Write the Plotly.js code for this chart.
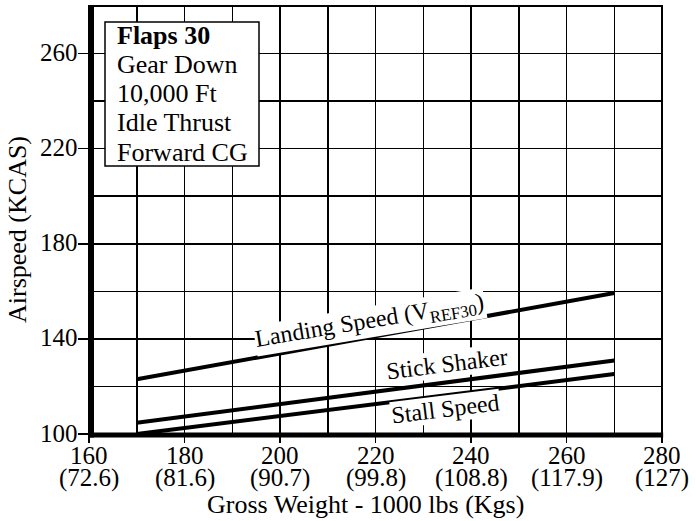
<!DOCTYPE html>
<html>
<head>
<meta charset="utf-8">
<script src="https://cdn.plot.ly/plotly-3.0.1.min.js"></script>
<style>html,body{margin:0;padding:0;background:#fff;}#chart{width:696px;height:521px;}</style>
</head>
<body>
<div id="chart"></div>
<script>
// ---- data ----
const weights = [170, 270];                 // gross weight, 1000 lbs
const landingSpeed = [123, 159.3];          // VREF30, KCAS
const stickShaker = [104.7, 130.9];         // KCAS
const stallSpeed = [100, 125.2];            // KCAS

const xTickVals = [160, 180, 200, 220, 240, 260, 280];
const xTickLbs = ['160', '180', '200', '220', '240', '260', '280'];
const xTickKgs = ['(72.6)', '(81.6)', '(90.7)', '(99.8)', '(108.8)', '(117.9)', '(127)'];
const yTickVals = [100, 140, 180, 220, 260];
const yTickText = ['100', '140', '180', '220', '260'];

const infoLines = ['<b>Flaps 30</b>', 'Gear Down', '10,000 Ft', 'Idle Thrust', 'Forward CG'];

const FONT = 'Liberation Serif';
const tf = {family: FONT, size: 26, color: '#000'};
const tickF = {family: FONT, size: 25, color: '#000'};
const labF = {family: FONT, size: 24, color: '#000'};
const lineStyle = {color: '#000', width: 4};

const traces = [
  {x: weights, y: landingSpeed, mode: 'lines', line: lineStyle, name: 'Landing Speed', hoverinfo: 'skip'},
  {x: weights, y: stickShaker, mode: 'lines', line: lineStyle, name: 'Stick Shaker', hoverinfo: 'skip'},
  {x: weights, y: stallSpeed, mode: 'lines', line: lineStyle, name: 'Stall Speed', hoverinfo: 'skip'}
];

const annotations = [];
// x tick label rows (lbs and kgs)
xTickVals.forEach((v, i) => {
  annotations.push({x: v, xref: 'x', y: 0, yref: 'paper', yanchor: 'middle', xanchor: 'center',
    yshift: -21, text: xTickLbs[i], showarrow: false, font: tickF});
  annotations.push({x: v, xref: 'x', y: 0, yref: 'paper', yanchor: 'middle', xanchor: 'center',
    yshift: -44, text: xTickKgs[i], showarrow: false, font: tickF});
});
// y tick labels
yTickVals.forEach((v, i) => {
  annotations.push({x: 0, xref: 'paper', y: v, yref: 'y', xanchor: 'right', yanchor: 'middle',
    xshift: -9, yshift: 1, text: yTickText[i], showarrow: false, font: tickF});
});
// info box lines
const infoY = [35, 64.5, 93.7, 123, 152];
infoLines.forEach((t, i) => {
  annotations.push({x: 26 / 573, xref: 'paper', y: (434 - infoY[i]) / 428, yref: 'paper',
    xanchor: 'left', yanchor: 'middle', text: t, showarrow: false, font: tf});
});
// line labels
annotations.push({x: 218.8, y: 147.1, xref: 'x', yref: 'y', text: 'Landing Speed (V<sub>REF30</sub>)',
  textangle: -9.5, showarrow: false, bgcolor: '#fff', borderpad: 0, font: labF});
annotations.push({x: 235, y: 129.5, xref: 'x', yref: 'y', text: 'Stick Shaker',
  textangle: -7, showarrow: false, bgcolor: '#fff', borderpad: 0, font: labF});
annotations.push({x: 234.6, y: 110.6, xref: 'x', yref: 'y', text: 'Stall Speed',
  textangle: -7, showarrow: false, bgcolor: '#fff', borderpad: 0, font: labF});
// axis titles
annotations.push({x: (365 - 89) / 573, y: (434 - 505) / 428, xref: 'paper', yref: 'paper',
  text: 'Gross Weight - 1000 lbs (Kgs)', showarrow: false, xanchor: 'center', yanchor: 'middle', font: tf});
annotations.push({x: (17 - 89) / 573, y: (434 - 230) / 428, xref: 'paper', yref: 'paper',
  text: 'Airspeed (KCAS)', showarrow: false, textangle: -90, xanchor: 'center', yanchor: 'middle', font: tf});

const layout = {
  width: 696, height: 521,
  margin: {l: 89, r: 34, t: 6, b: 87},
  paper_bgcolor: '#fff', plot_bgcolor: '#fff',
  showlegend: false,
  font: tf,
  xaxis: {
    range: [160, 280], tickmode: 'array', tickvals: xTickVals, showticklabels: false,
    ticks: 'outside', ticklen: 8, tickwidth: 1.5, tickcolor: '#000',
    showgrid: true, gridcolor: '#000', gridwidth: 1.5,
    minor: {tickmode: 'linear', tick0: 160, dtick: 10, showgrid: true, gridcolor: '#000', gridwidth: 1.5, ticks: ''},
    showline: false, zeroline: false, fixedrange: true
  },
  yaxis: {
    range: [100, 280], tickmode: 'array', tickvals: yTickVals, showticklabels: false,
    ticks: 'outside', ticklen: 10, tickwidth: 1.5, tickcolor: '#000',
    showgrid: true, gridcolor: '#000', gridwidth: 1.5,
    minor: {tickmode: 'linear', tick0: 100, dtick: 20, showgrid: true, gridcolor: '#000', gridwidth: 1.5, ticks: ''},
    showline: false, zeroline: false, fixedrange: true
  },
  shapes: [
    {type: 'rect', xref: 'paper', yref: 'paper', x0: 0, x1: 1, y0: 0, y1: 1,
      line: {color: '#000', width: 2}, fillcolor: 'rgba(0,0,0,0)', layer: 'below'},
    // thick left and bottom axis lines
    {type: 'line', xref: 'paper', yref: 'paper', x0: 2 / 573, x1: 2 / 573, y0: -3.5 / 428, y1: 1,
      line: {color: '#000', width: 6}, layer: 'above'},
    {type: 'line', xref: 'paper', yref: 'paper', x0: -1 / 573, x1: 1.002, y0: -1 / 428, y1: -1 / 428,
      line: {color: '#000', width: 5}, layer: 'above'},
    {type: 'rect', xref: 'paper', yref: 'paper', x0: 16 / 573, x1: 170 / 573,
      y0: (434 - 166) / 428, y1: (434 - 22) / 428,
      line: {color: '#000', width: 1.5}, fillcolor: '#fff', layer: 'above'}
  ],
  annotations: annotations
};

Plotly.newPlot('chart', traces, layout, {displayModeBar: false, staticPlot: true});
</script>
</body>
</html>
